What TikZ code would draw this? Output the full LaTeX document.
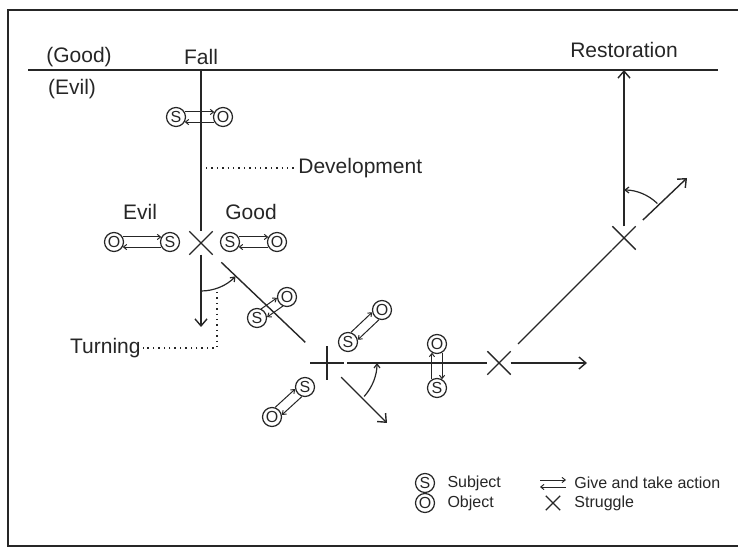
\documentclass[tikz,border=0pt]{standalone}
\usepackage{fontspec}
\setmainfont{Liberation Sans}
\usetikzlibrary{arrows.meta, positioning, calc, shapes.misc}
\definecolor{Ink}{HTML}{262626}
\tikzset{
  lbl/.style={font=\fontsize{10.5}{12}\selectfont, text=Ink, inner sep=1pt},
  keylbl/.style={font=\fontsize{8}{9.6}\selectfont, text=Ink, inner sep=1pt},
  agent/.style={circle, draw=Ink, line width=0.6pt, minimum size=9.5pt, inner sep=0pt, font=\fontsize{8}{8}\selectfont, text=Ink},
  struggle/.style={cross out, draw=Ink, line width=0.7pt, minimum size=11pt, inner sep=0pt},
  frameline/.style={draw=Ink, line width=0.9pt},
  baseline/.style={draw=Ink, line width=1pt},
  course/.style={draw=Ink, line width=0.7pt},
  coursearrow/.style={course, -{Straight Barb[length=3.5pt, width=6pt]}},
  give/.style={draw=Ink, line width=0.5pt, -{Straight Barb[length=1.6pt, width=2.6pt]}},
  turn/.style={draw=Ink, line width=0.6pt, -{Straight Barb[length=2pt, width=3pt]}},
  guide/.style={draw=Ink, line width=0.7pt, dotted}
}
% a pair of give and take arrows between two circles, #3 = angle from #1 to #2
\newcommand{\givetake}[3]{%
  \pgfmathtruncatemacro{\ga}{#3+30}\pgfmathtruncatemacro{\gb}{#3+150}%
  \pgfmathtruncatemacro{\gc}{#3+210}\pgfmathtruncatemacro{\gd}{#3-30}%
  \draw[give] (#1.\ga) -- (#2.\gb);
  \draw[give] (#2.\gc) -- (#1.\gd);}

\begin{document}
\begin{tikzpicture}[x=0.5pt, y=0.5pt]
\useasboundingbox (0,0) rectangle (738,-549);
\draw[frameline] (740,-10) -- (8,-10) -- (8,-546) -- (740,-546);

% good / evil line
\coordinate (baseL) at (28,-70);
\coordinate (baseR) at (718,-70);
\draw[baseline] (baseL) -- (baseR);
\node[lbl] (goodlbl) at (79,-57) {(Good)};
\node[lbl] (evillbl) at (72,-89) {(Evil)};
\node[lbl] (falllbl) at (201,-57) {Fall};
\node[lbl] (restlbl) at (624,-50) {Restoration};

% struggle points
\node[struggle] (fallx) at (201,-243) {};
\node[struggle, rotate=45] (cross) at (327,-363) {};
\node[struggle] (x2) at (499,-363) {};
\node[struggle] (x3) at (624,-238) {};

\coordinate (fallpt) at (201,-70);
\coordinate (fallend) at (201,-327);
\coordinate (evilend) at (387,-423);
\coordinate (goodend) at (587,-363);
\coordinate (risetip) at (687,-178);
\coordinate (restpt) at (624,-70);

% courses
\draw[course] (fallpt) -- (fallx.north);
\draw[coursearrow] (fallx.south) -- (fallend);
\draw[course] ($(fallx)!14pt!(cross)$) -- ($(cross)!15pt!(fallx)$);
\draw[coursearrow] ($(cross)!10pt!(evilend)$) -- (evilend);
\draw[course] ($(cross)!10pt!(x2)$) -- (x2.west);
\draw[coursearrow] (x2.east) -- (goodend);
\draw[course] ($(x2)!13.5pt!(x3)$) -- ($(x3)!8.5pt!(x2)$);
\draw[coursearrow] ($(x3)!13pt!(risetip)$) -- (risetip);
\draw[coursearrow] (x3.north) -- (restpt);

% turning angles
\draw[turn] ([shift={(-90:24pt)}]fallx.center) arc[start angle=-90, end angle=-44, radius=24pt];
\draw[turn] ([shift={(-42:25pt)}]cross.center) arc[start angle=-42, end angle=0, radius=25pt];
\draw[turn] ([shift={(46:24pt)}]x3.center) arc[start angle=46, end angle=90, radius=24pt];

% subject and object pairs
\node[agent] (s1) at (176,-117) {S};
\node[agent] (o1) at (223,-117) {O};
\givetake{s1}{o1}{0}

\node[lbl] (evilsub) at (140,-212) {Evil};
\node[lbl] (goodsub) at (251,-212) {Good};
\node[agent] (o2) at (114,-242) {O};
\node[agent] (s2) at (170,-242) {S};
\node[agent] (s3) at (230,-242) {S};
\node[agent] (o3) at (277,-242) {O};
\givetake{o2}{s2}{0}
\givetake{s3}{o3}{0}

\node[agent] (o4) at (287,-297) {O};
\node[agent] (s4) at (257,-318) {S};
\givetake{s4}{o4}{35}

\node[agent] (o5) at (382,-310) {O};
\node[agent] (s5) at (348,-342) {S};
\givetake{s5}{o5}{43}

\node[agent] (s6) at (305,-387) {S};
\node[agent] (o6) at (272,-417) {O};
\givetake{o6}{s6}{42}

\node[agent] (o7) at (437,-344) {O};
\node[agent] (s7) at (437,-388) {S};
\givetake{s7}{o7}{90}

% dotted call-outs
\node[lbl, anchor=west] (devlbl) at (296,-168) {Development};
\coordinate (devpt) at (206,-168);
\draw[guide] (devpt) -- (devlbl.west);
\node[lbl, anchor=east] (turnlbl) at (143,-348) {Turning};
\coordinate (turnpt) at (217,-292);
\draw[guide] (turnpt) |- (turnlbl.east);

% legend
\node[agent] (keys) at (425,-483) {S};
\node[agent] (keyo) at (425,-503) {O};
\node[keylbl, right=5pt of keys] (keyslbl) {Subject};
\node[keylbl, right=5pt of keyo] (keyolbl) {Object};
\coordinate (keyga) at (540,-480);
\coordinate (keygb) at (566,-480);
\coordinate (keygc) at (566,-487);
\coordinate (keygd) at (540,-487);
\draw[give] (keyga) -- (keygb);
\draw[give] (keygc) -- (keygd);
\node[keylbl, anchor=west] (keyglbl) at (572,-483) {Give and take action};
\node[struggle, minimum size=6.5pt] (keyx) at (553,-503) {};
\node[keylbl, anchor=west] (keyxlbl) at (572,-503) {Struggle};
\end{tikzpicture}
\end{document}
